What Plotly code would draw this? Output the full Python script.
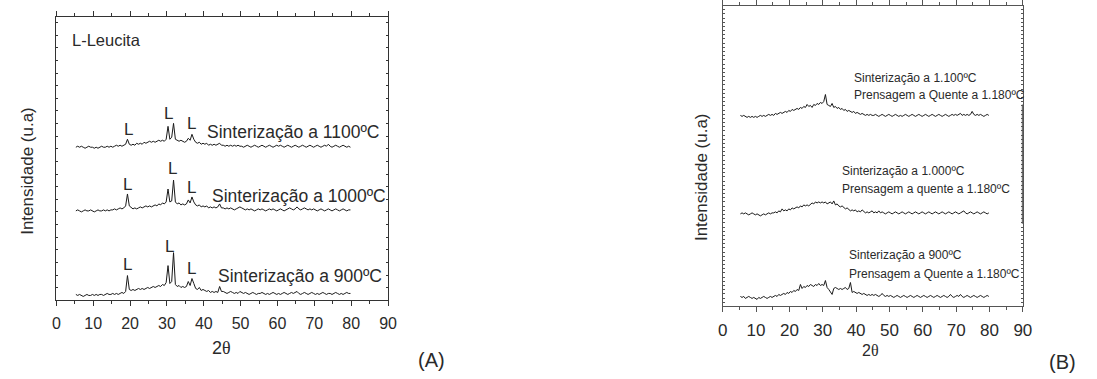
import plotly.graph_objects as go

# 2-theta sampling grid (degrees), 0.5 deg steps from 5.3 to 79.8
two_theta = [round(5.3 + 0.5 * i, 1) for i in range(150)]

# ---- Panel A: relative intensities (a.u.) above each curve's own baseline
a_900 = [1, 0, 1, 0, -1, 0, 1, 0, 0, 1,
         0, 1, 0, 1, 1, 0, 1, 2, 1, 1,
         2, 1, 2, 1, 2, 3, 2, 4, 20, 6,
         5, 6, 5, 6, 7, 6, 7, 6, 7, 8,
         7, 8, 9, 8, 9, 10, 9, 11, 10, 13,
         30, 12, 14, 43, 11, 9, 10, 8, 9, 8,
         9, 14, 10, 17, 12, 7, 6, 8, 5, 6,
         5, 4, 5, 3, 4, 3, 4, 3, 9, 4,
         4, 3, 2, 3, 4, 3, 2, 3, 2, 4,
         3, 2, 3, 2, 1, 2, 3, 2, 1, 2,
         2, 3, 2, 1, 2, 1, 2, 3, 2, 1,
         2, 1, 2, 3, 2, 1, 2, 3, 2, 3,
         4, 2, 1, 2, 3, 2, 1, 2, 3, 2,
         1, 2, 1, 2, 3, 2, 1, 2, 2, 1,
         2, 3, 2, 1, 2, 1, 2, 3, 2, 2]
a_1000 = [0, 1, 0, -1, 0, 1, 0, 0, 1, 0,
          -1, 0, 1, 0, 0, 1, 0, 1, 0, 1,
          1, 2, 1, 2, 3, 2, 3, 5, 17, 5,
          3, 2, 3, 2, 3, 4, 3, 4, 5, 4,
          5, 4, 5, 6, 5, 7, 6, 8, 7, 9,
          22, 9, 10, 31, 9, 7, 8, 6, 7, 6,
          7, 11, 8, 14, 9, 6, 5, 6, 4, 5,
          4, 5, 3, 4, 3, 4, 3, 4, 7, 3,
          3, 2, 3, 2, 3, 2, 1, 2, 3, 4,
          3, 2, 1, 2, 1, 2, 1, 0, 1, 2,
          1, 2, 1, 0, 1, 2, 1, 2, 1, 0,
          1, 2, 1, 0, 1, 2, 3, 2, 1, 2,
          4, 2, 1, 2, 3, 2, 1, 2, 1, 2,
          1, 0, 1, 2, 1, 0, 1, 2, 1, 0,
          1, 2, 1, 0, 1, 2, 1, 0, 1, 1]
a_1100 = [0, 1, 0, 1, 0, -1, 0, 1, 0, 0,
          -1, 0, -1, 0, 1, 0, 0, 1, 0, 1,
          0, 1, 2, 1, 2, 1, 2, 3, 8, 3,
          2, 3, 2, 4, 3, 4, 3, 5, 4, 5,
          6, 5, 6, 5, 6, 7, 6, 7, 6, 8,
          21, 8, 10, 24, 8, 7, 6, 7, 6, 5,
          6, 9, 7, 13, 8, 5, 4, 5, 3, 4,
          3, 4, 2, 3, 2, 3, 2, 3, 4, 2,
          2, 1, 2, 1, 2, 1, 2, 1, 2, 1,
          1, 0, 1, 2, 1, 0, 1, 2, 1, 0,
          1, 2, 1, 0, 1, 2, 1, 0, 1, 2,
          1, 2, 1, 0, 1, 2, 1, 0, 1, 2,
          1, 0, 1, 2, 1, 0, 1, 2, 1, 0,
          1, 2, 1, 0, 1, 2, 1, 3, 1, 0,
          1, 2, 1, 0, 1, 2, 1, 0, 1, 0]
a_offsets = {"900": 5, "1000": 90, "1100": 154}

# ---- Panel B
b_900 = [1, 0, 1, -1, 0, 1, 0, -1, 0, -1,
         -2, 0, -1, 0, 1, 0, -1, 0, 1, 0,
         1, 2, 1, 3, 2, 3, 4, 3, 5, 4,
         6, 5, 7, 6, 8, 7, 13, 9, 11, 10,
         12, 11, 13, 12, 11, 13, 12, 14, 12, 13,
         12, 17, 10, 8, 6, 3, 9, 10, 9, 8,
         9, 8, 9, 10, 8, 9, 15, 5, 6, 5,
         4, 5, 4, 3, 4, 3, 2, 3, 2, 3,
         2, 3, 2, 1, 2, 4, 2, 1, 2, 1,
         2, 1, 0, 1, 2, 1, 0, 1, 2, 1,
         0, 1, 2, 1, 0, 1, 2, 1, 0, 1,
         2, 1, 0, 1, 2, 1, 0, 1, 2, 1,
         0, 1, 2, 1, 0, 1, 3, 1, 0, 1,
         2, 1, 3, 1, 0, 1, 2, 1, 0, 1,
         2, 1, 0, 1, 2, 1, 0, 1, 2, 1]
b_1000 = [0, 1, 0, 1, 0, -1, 0, 1, 0, -1,
          0, -1, -2, -1, 0, -1, 0, 1, 0, 1,
          1, 2, 1, 3, 2, 5, 3, 4, 3, 5,
          4, 6, 5, 6, 7, 6, 8, 7, 9, 8,
          9, 8, 10, 11, 10, 12, 11, 12, 11, 12,
          11, 12, 10, 11, 12, 10, 13, 9, 10, 8,
          7, 8, 6, 5, 6, 4, 3, 4, 3, 4,
          2, 3, 2, 4, 2, 1, 2, 1, 2, 3,
          1, 2, 1, 3, 1, 2, 1, 0, 1, 2,
          1, 0, 1, 2, 1, 0, 1, 2, 1, 0,
          1, 2, 1, 0, 1, 2, 1, 0, 1, 2,
          1, 0, 1, 2, 1, 0, 1, 2, 1, 0,
          1, 2, 1, 0, 1, 2, 1, 0, 1, 2,
          1, 0, 1, 2, 3, 1, 0, 1, 2, 1,
          0, 1, 2, 1, 0, 1, 2, 1, 0, 1]
b_1100 = [1, 0, 1, 0, -1, 0, -1, 0, -1, 0,
          -1, 0, 1, 0, 1, 0, 1, 2, 1, 2,
          1, 3, 2, 3, 4, 3, 4, 5, 4, 6,
          5, 7, 6, 7, 8, 7, 9, 8, 10, 9,
          12, 10, 11, 9, 12, 11, 13, 12, 14, 13,
          15, 22, 12, 11, 10, 13, 9, 10, 8, 9,
          7, 8, 6, 7, 5, 6, 5, 4, 5, 3,
          4, 3, 2, 3, 2, 1, 2, 1, 2, 1,
          1, 2, 1, 0, 1, 2, 1, 0, 1, 2,
          1, 0, 1, 2, 1, 0, 1, 0, 1, 2,
          1, 0, 1, 2, 1, 0, 1, 2, 1, 0,
          1, 2, 1, 0, 1, 2, 1, 0, 1, 2,
          1, 0, 1, 2, 1, 0, 1, 2, 1, 2,
          1, 2, 3, 1, 2, 1, 2, 1, 2, 5,
          2, 1, 2, 1, 2, 1, 0, 1, 2, 1]
b_offsets = {"900": 9, "1000": 93, "1100": 191}

x_ticks = [0, 10, 20, 30, 40, 50, 60, 70, 80, 90]

W, H = 1097, 379
def px_x(p): return p / W
def px_y(p): return 1 - p / H

LINE = "#1a1a1a"
TXT = "#2a2a2a"
FONT = "Liberation Sans, Arial, sans-serif"
THETA = "2<span style='font-family:Liberation Serif'>θ</span>"

fig = go.Figure()
for key, series in (("900", a_900), ("1000", a_1000), ("1100", a_1100)):
    fig.add_trace(go.Scatter(x=two_theta, y=[v + a_offsets[key] for v in series],
                             mode="lines", line=dict(color=LINE, width=1),
                             xaxis="x", yaxis="y", showlegend=False, hoverinfo="skip"))
for key, series in (("900", b_900), ("1000", b_1000), ("1100", b_1100)):
    fig.add_trace(go.Scatter(x=two_theta, y=[v + b_offsets[key] for v in series],
                             mode="lines", line=dict(color=LINE, width=1),
                             xaxis="x2", yaxis="y2", showlegend=False, hoverinfo="skip"))

def xaxis(domain, anchor, size, color):
    return dict(domain=domain, anchor=anchor, range=[0, 90], tickvals=x_ticks,
                ticks="outside", ticklen=5, tickwidth=1, tickcolor=color,
                showline=True, linecolor=color, linewidth=1, mirror="allticks",
                showgrid=False, zeroline=False, ticklabelstandoff=3,
                tickfont=dict(family=FONT, size=size, color=TXT),
                minor=dict(dtick=5, tick0=0, ticks="outside", ticklen=3,
                           tickcolor=color, showgrid=False))

def yaxis(domain, anchor, rng, dt, color):
    return dict(domain=domain, anchor=anchor, range=rng, showticklabels=False,
                ticks="inside", ticklen=2, tickwidth=1, tickcolor=color, dtick=dt,
                showline=True, linecolor=color, linewidth=1, mirror="allticks",
                showgrid=False, zeroline=False)

fig.update_layout(
    width=W, height=H, margin=dict(l=0, r=0, t=0, b=0),
    paper_bgcolor="white", plot_bgcolor="white",
    xaxis=xaxis([px_x(52), px_x(388)], "y", 16, "#333333"),
    yaxis=yaxis([px_y(300), px_y(15)], "x", [0, 285], 12.7, "#333333"),
    xaxis2=xaxis([px_x(727), px_x(1031)], "y2", 17, "#555555"),
    yaxis2=yaxis([px_y(306), px_y(4)], "x2", [0, 302], 4.2, "#555555"),
)

ann = []
def A(x, y, text, size, xref="paper", yref="paper", xanchor="center", angle=0, font=FONT):
    ann.append(dict(x=x, y=y, xref=xref, yref=yref, text=text, showarrow=False,
                    xanchor=xanchor, yanchor="middle", textangle=angle,
                    font=dict(family=font, size=size, color=TXT)))

# Panel A texts
A(px_x(22), px_y(170), "Intensidade (u.a)", 17, angle=-90)
A(px_x(219), px_y(348), THETA, 18)
A(px_x(416), px_y(360), "(A)", 20, xanchor="left")
A(3.8, 262, "L-Leucita", 16.5, "x", "y", "left")
A(40.4, 169, "Sinterização a 1100ºC", 17.5, "x", "y", "left")
A(41.8, 105, "Sinterização a 1000ºC", 17.5, "x", "y", "left")
A(43.4, 25, "Sinterização a 900ºC", 17.5, "x", "y", "left")
for lx, ly in ((19.6, 172), (30.5, 188), (36.7, 178),
               (19.3, 117), (31.6, 133), (36.7, 114),
               (19.3, 36), (30.8, 54), (36.7, 32)):
    A(lx, ly, "L", 17, "x", "y")

# Panel B texts
A(px_x(705), px_y(176), "Intensidade (u.a)", 17, angle=-90)
A(px_x(877), px_y(350), THETA, 16)
A(px_x(1055), px_y(362), "(B)", 20, xanchor="left")
for lx, ly, t in ((38.7, 230, "Sinterização a 1.100ºC"),
                  (38.7, 213, "Prensagem a Quente a 1.180ºC"),
                  (35.1, 136, "Sinterização a 1.000ºC"),
                  (35.1, 118, "Prensagem a quente a 1.180ºC"),
                  (37.3, 52, "Sinterização a 900ºC"),
                  (37.3, 33, "Prensagem a Quente a 1.180ºC")):
    A(lx, ly, t, 12, "x2", "y2", "left")

fig.update_layout(annotations=ann)
fig.add_shape(type="line", xref="x2", yref="y2", x0=90, x1=90, y0=83, y1=203,
              line=dict(color="#555555", width=2))

fig.write_html("out.html", config={"displayModeBar": False},
               post_script="document.body.style.margin='0';")
